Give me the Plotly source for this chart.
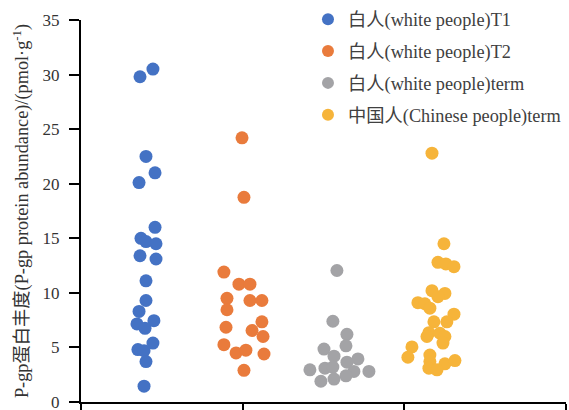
import plotly.graph_objects as go

# P-gp protein abundance (pmol/g) per individual, with horizontal jitter positions
t1_x = [0.445, 0.365, 0.402, 0.458, 0.359, 0.458, 0.371, 0.402, 0.464, 0.365, 0.464,
        0.402, 0.402, 0.359, 0.451, 0.346, 0.396, 0.445, 0.352, 0.390, 0.402, 0.390]
t1_y = [30.5, 29.8, 22.5, 21.0, 20.1, 16.0, 15.0, 14.7, 14.5, 13.4, 13.1,
        11.1, 9.3, 8.3, 7.45, 7.15, 6.75, 5.4, 4.8, 4.7, 3.7, 1.45]

t2_x = [0.996, 1.008, 0.884, 0.977, 1.045, 0.903, 1.045, 1.119, 0.903, 0.897, 1.119,
        1.058, 1.126, 0.884, 0.959, 1.020, 1.132, 1.008]
t2_y = [24.2, 18.75, 11.9, 10.8, 10.8, 9.5, 9.3, 9.3, 8.45, 6.85, 7.35,
        6.55, 6.0, 5.25, 4.5, 4.75, 4.4, 2.9]

term_x = [1.583, 1.558, 1.645, 1.639, 1.503, 1.565, 1.645, 1.713, 1.416, 1.509, 1.558,
          1.688, 1.781, 1.639, 1.484, 1.565]
term_y = [12.05, 7.4, 6.2, 5.15, 4.85, 4.2, 3.65, 3.95, 2.95, 3.1, 3.2,
          2.8, 2.8, 2.4, 1.9, 2.1]

cn_x = [2.171, 2.245, 2.208, 2.257, 2.307, 2.171, 2.251, 2.208, 2.084, 2.127, 2.158,
        2.307, 2.263, 2.183, 2.152, 2.220, 2.251, 2.140, 2.239, 2.047, 2.022, 2.158,
        2.158, 2.251, 2.313, 2.152, 2.202]
cn_y = [22.8, 14.5, 12.8, 12.65, 12.4, 10.2, 9.95, 9.65, 9.1, 9.0, 8.6,
        8.05, 7.35, 7.35, 6.35, 6.3, 6.0, 6.0, 5.4, 5.05, 4.1, 4.3,
        3.7, 3.5, 3.8, 3.1, 2.95]

names = ["白人(white people)T1", "白人(white people)T2",
         "白人(white people)term", "中国人(Chinese people)term"]
colors = ["#4472C4", "#E97B3C", "#A3A3A6", "#F6B43A"]
y_ticks = [0, 5, 10, 15, 20, 25, 30, 35]

FONT = '"Liberation Serif", "Noto Sans CJK SC", serif'

fig = go.Figure()
for i, (xs, ys) in enumerate([(t1_x, t1_y), (t2_x, t2_y), (term_x, term_y), (cn_x, cn_y)]):
    fig.add_trace(go.Scatter(
        x=xs, y=ys, mode="markers", name=names[i], legendgroup=f"g{i}",
        marker=dict(size=13, color=colors[i], line=dict(width=0)),
    ))

fig.update_layout(
    width=569, height=410,
    margin=dict(l=81, r=3, t=20, b=8, autoexpand=False),
    paper_bgcolor="white", plot_bgcolor="white",
    font=dict(family=FONT, size=17, color="#333333"),
    showlegend=True,
    legend=dict(
        x=0.468, y=1.05, xanchor="left", yanchor="top",
        font=dict(family=FONT, size=18.3, color="#404040"),
        bgcolor="rgba(0,0,0,0)", tracegroupgap=5, itemsizing="constant",
    ),
    xaxis=dict(
        range=[0, 3], tickvals=[0, 1, 2, 3], showticklabels=False,
        ticks="outside", ticklen=8, tickwidth=1.5, tickcolor="black",
        showline=True, linecolor="black", linewidth=2,
        showgrid=False, zeroline=False, automargin=False,
    ),
    yaxis=dict(
        range=[0, 35], tickvals=y_ticks, ticktext=[str(v) for v in y_ticks],
        ticks="outside", ticklen=10, tickwidth=1.5, tickcolor="black",
        showline=True, linecolor="black", linewidth=2,
        showgrid=False, zeroline=False, ticklabelstandoff=6, automargin=False,
        ticklabeloverflow="allow",
        tickfont=dict(family=FONT, size=17, color="#333333"),
        title=dict(text="P-gp蛋白丰度(P-gp protein abundance)/(pmol·g<sup>-1</sup>)",
                   font=dict(family=FONT, size=18.3, color="#333333"), standoff=9),
    ),
)

fig.write_html("out.html")
